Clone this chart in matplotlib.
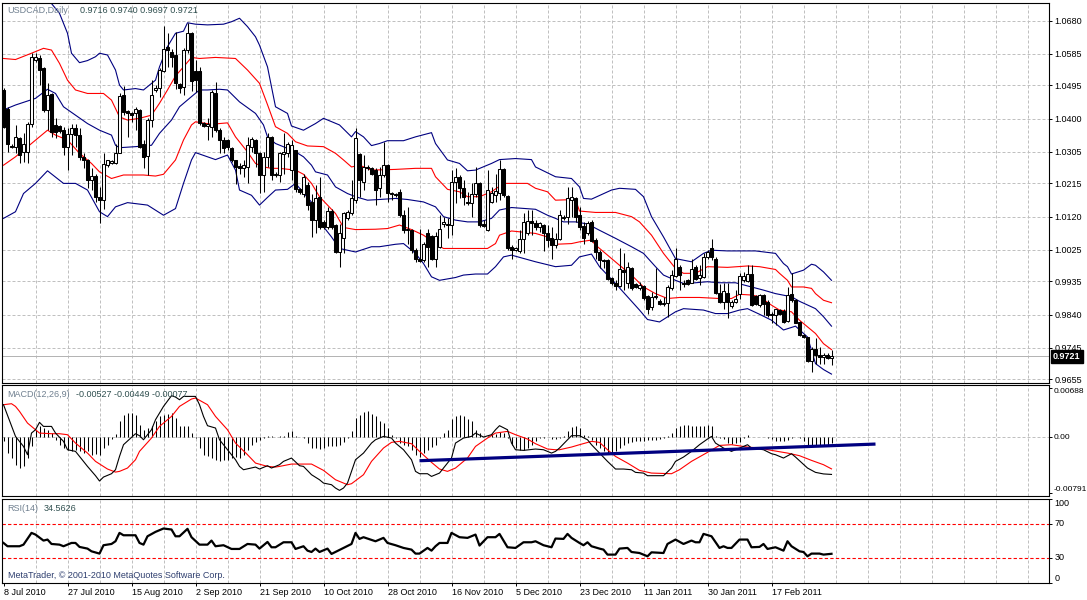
import numpy as np
import matplotlib
matplotlib.use("Agg")
import matplotlib.pyplot as plt

plt.rcParams['font.family'] = ['Liberation Sans', 'DejaVu Sans']

# ---- daily candles (bar index 0 = 8 Jul 2010) ----
opens = [
    1.0482, 1.0429, 1.0322, 1.0320, 1.0344, 1.0305, 1.0305, 1.0386, 1.0569, 1.0572,
    1.0544, 1.0424, 1.0470, 1.0382, 1.0379, 1.0369, 1.0320, 1.0356, 1.0374, 1.0353,
    1.0291, 1.0283, 1.0224, 1.0236, 1.0177, 1.0167, 1.0267, 1.0272, 1.0272, 1.0303,
    1.0469, 1.0422, 1.0415, 1.0415, 1.0426, 1.0327, 1.0293, 1.0396, 1.0482, 1.0489,
    1.0537, 1.0606, 1.0591, 1.0582, 1.0499, 1.0491, 1.0596, 1.0646, 1.0537, 1.0537,
    1.0388, 1.0379, 1.0377, 1.0474, 1.0367, 1.0339, 1.0339, 1.0315, 1.0282, 1.0265,
    1.0258, 1.0262, 1.0320, 1.0339, 1.0301, 1.0239, 1.0291, 1.0348, 1.0239, 1.0239,
    1.0299, 1.0301, 1.0253, 1.0310, 1.0198, 1.0186, 1.0210, 1.0162, 1.0110, 1.0177,
    1.0105, 1.0091, 1.0137, 1.0096, 1.0019, 1.0058, 1.0115, 1.0129, 1.0167, 1.0298,
    1.0220, 1.0262, 1.0258, 1.0253, 1.0201, 1.0239, 1.0267, 1.0188, 1.0184, 1.0191,
    1.0126, 1.0081, 1.0081, 1.0024, 0.9998, 0.9996, 1.0072, 1.0064, 1.0000, 1.0034,
    1.0099, 1.0100, 1.0096, 1.0220, 1.0234, 1.0203, 1.0162, 1.0158, 1.0186, 1.0217,
    1.0100, 1.0081, 1.0161, 1.0181, 1.0188, 1.0255, 1.0179, 1.0034, 1.0024, 1.0022,
    1.0055, 1.0072, 1.0108, 1.0102, 1.0091, 1.0096, 1.0074, 1.0060, 1.0039, 1.0055,
    1.0120, 1.0120, 1.0167, 1.0172, 1.0124, 1.0093, 1.0072, 1.0105, 1.0053, 1.0019,
    0.9996, 0.9996, 0.9945, 0.9929, 0.9921, 0.9967, 0.9929, 0.9974, 0.9927, 0.9915,
    0.9921, 0.9893, 0.9862, 0.9889, 0.9879, 0.9870, 0.9872, 0.9915, 0.9950, 0.9977,
    0.9931, 0.9938, 0.9931, 0.9977, 0.9946, 0.9948, 1.0005, 1.0029, 1.0000, 0.9902,
    0.9877, 0.9902, 0.9864, 0.9877, 0.9900, 0.9940, 0.9937, 0.9956, 0.9893, 0.9867,
    0.9896, 0.9877, 0.9843, 0.9838, 0.9853, 0.9851, 0.9822, 0.9898, 0.9883, 0.9819,
    0.9781, 0.9775, 0.9708, 0.9743, 0.9724, 0.9719, 0.9724, 0.9716]

highs = [
    1.0489, 1.0434, 1.0329, 1.0382, 1.0348, 1.0358, 1.0391, 1.0587, 1.0587, 1.0582,
    1.0548, 1.0501, 1.0474, 1.0401, 1.0382, 1.0377, 1.0372, 1.0386, 1.0386, 1.0372,
    1.0301, 1.0285, 1.0258, 1.0243, 1.0205, 1.0301, 1.0283, 1.0283, 1.0329, 1.0472,
    1.0493, 1.0424, 1.0420, 1.0432, 1.0429, 1.0339, 1.0401, 1.0510, 1.0496, 1.0544,
    1.0665, 1.0644, 1.0598, 1.0648, 1.0501, 1.0601, 1.0672, 1.0648, 1.0567, 1.0548,
    1.0391, 1.0401, 1.0482, 1.0506, 1.0372, 1.0348, 1.0341, 1.0320, 1.0283, 1.0272,
    1.0282, 1.0348, 1.0348, 1.0341, 1.0305, 1.0305, 1.0358, 1.0350, 1.0248, 1.0305,
    1.0358, 1.0334, 1.0339, 1.0310, 1.0201, 1.0243, 1.0220, 1.0186, 1.0210, 1.0234,
    1.0110, 1.0148, 1.0143, 1.0099, 1.0100, 1.0134, 1.0139, 1.0224, 1.0372, 1.0301,
    1.0296, 1.0267, 1.0262, 1.0258, 1.0262, 1.0334, 1.0269, 1.0191, 1.0188, 1.0198,
    1.0139, 1.0148, 1.0086, 1.0029, 1.0086, 1.0048, 1.0086, 1.0067, 1.0077, 1.0124,
    1.0120, 1.0115, 1.0253, 1.0258, 1.0239, 1.0224, 1.0191, 1.0217, 1.0262, 1.0220,
    1.0110, 1.0253, 1.0205, 1.0241, 1.0282, 1.0258, 1.0181, 1.0039, 1.0034, 1.0081,
    1.0129, 1.0139, 1.0139, 1.0110, 1.0105, 1.0099, 1.0096, 1.0091, 1.0072, 1.0140,
    1.0124, 1.0205, 1.0205, 1.0177, 1.0148, 1.0105, 1.0107, 1.0110, 1.0058, 1.0024,
    1.0000, 1.0000, 0.9948, 0.9940, 1.0029, 1.0015, 0.9991, 0.9977, 0.9931, 0.9934,
    0.9924, 0.9896, 0.9905, 0.9972, 0.9886, 0.9891, 0.9924, 0.9967, 1.0029, 0.9981,
    0.9938, 0.9943, 1.0000, 0.9981, 0.9981, 1.0015, 1.0026, 1.0055, 1.0005, 0.9927,
    0.9931, 0.9929, 0.9883, 0.9910, 0.9958, 0.9962, 0.9981, 0.9981, 0.9896, 0.9900,
    0.9900, 0.9881, 0.9848, 0.9857, 0.9855, 0.9855, 0.9919, 0.9958, 0.9886, 0.9822,
    0.9786, 0.9776, 0.9748, 0.9772, 0.9748, 0.9731, 0.9729, 0.9740]

lows = [
    1.0372, 1.0305, 1.0315, 1.0301, 1.0272, 1.0277, 1.0272, 1.0377, 1.0563, 1.0496,
    1.0420, 1.0367, 1.0348, 1.0344, 1.0360, 1.0296, 1.0253, 1.0296, 1.0320, 1.0282,
    1.0258, 1.0201, 1.0196, 1.0162, 1.0102, 1.0143, 1.0262, 1.0270, 1.0270, 1.0301,
    1.0410, 1.0348, 1.0391, 1.0367, 1.0315, 1.0258, 1.0239, 1.0377, 1.0477, 1.0463,
    1.0534, 1.0548, 1.0548, 1.0486, 1.0472, 1.0467, 1.0587, 1.0480, 1.0477, 1.0382,
    1.0377, 1.0339, 1.0348, 1.0363, 1.0301, 1.0301, 1.0310, 1.0277, 1.0213, 1.0243,
    1.0234, 1.0215, 1.0305, 1.0262, 1.0188, 1.0191, 1.0262, 1.0224, 1.0234, 1.0220,
    1.0243, 1.0291, 1.0224, 1.0191, 1.0186, 1.0177, 1.0139, 1.0062, 1.0072, 1.0086,
    1.0086, 1.0086, 1.0086, 1.0015, 0.9977, 1.0015, 1.0110, 1.0124, 1.0158, 1.0177,
    1.0196, 1.0253, 1.0239, 1.0153, 1.0177, 1.0234, 1.0162, 1.0167, 1.0177, 1.0120,
    1.0072, 1.0043, 1.0015, 0.9991, 0.9991, 0.9991, 0.9977, 0.9996, 0.9977, 1.0029,
    1.0091, 1.0058, 1.0067, 1.0158, 1.0172, 1.0153, 1.0153, 1.0120, 1.0177, 1.0091,
    1.0089, 1.0080, 1.0158, 1.0162, 1.0167, 1.0177, 1.0024, 1.0000, 1.0022, 1.0015,
    1.0015, 1.0067, 1.0067, 1.0081, 1.0077, 1.0022, 1.0034, 0.9998, 1.0029, 1.0053,
    1.0110, 1.0099, 1.0120, 1.0105, 1.0081, 1.0043, 1.0067, 1.0048, 0.9998, 0.9972,
    0.9972, 0.9938, 0.9924, 0.9910, 0.9919, 0.9910, 0.9915, 0.9910, 0.9915, 0.9910,
    0.9883, 0.9843, 0.9853, 0.9886, 0.9867, 0.9864, 0.9834, 0.9910, 0.9948, 0.9910,
    0.9919, 0.9924, 0.9929, 0.9940, 0.9924, 0.9946, 1.0000, 0.9996, 0.9900, 0.9872,
    0.9857, 0.9829, 0.9860, 0.9874, 0.9886, 0.9934, 0.9934, 0.9864, 0.9867, 0.9862,
    0.9838, 0.9834, 0.9815, 0.9810, 0.9838, 0.9817, 0.9819, 0.9877, 0.9815, 0.9778,
    0.9772, 0.9705, 0.9676, 0.9700, 0.9698, 0.9700, 0.9712, 0.9697]

closes = [
    1.0377, 1.0329, 1.0318, 1.0348, 1.0296, 1.0329, 1.0386, 1.0577, 1.0577, 1.0539,
    1.0424, 1.0467, 1.0363, 1.0363, 1.0364, 1.0320, 1.0356, 1.0372, 1.0353, 1.0291,
    1.0282, 1.0224, 1.0236, 1.0177, 1.0167, 1.0270, 1.0282, 1.0279, 1.0303, 1.0465,
    1.0420, 1.0415, 1.0410, 1.0427, 1.0320, 1.0291, 1.0396, 1.0467, 1.0489, 1.0539,
    1.0598, 1.0596, 1.0577, 1.0501, 1.0489, 1.0596, 1.0644, 1.0508, 1.0510, 1.0388,
    1.0379, 1.0386, 1.0477, 1.0369, 1.0339, 1.0315, 1.0318, 1.0282, 1.0262, 1.0260,
    1.0267, 1.0324, 1.0341, 1.0301, 1.0239, 1.0291, 1.0348, 1.0239, 1.0243, 1.0301,
    1.0305, 1.0327, 1.0324, 1.0198, 1.0191, 1.0234, 1.0153, 1.0110, 1.0172, 1.0091,
    1.0089, 1.0137, 1.0091, 1.0019, 1.0072, 1.0129, 1.0134, 1.0172, 1.0344, 1.0224,
    1.0262, 1.0258, 1.0243, 1.0196, 1.0239, 1.0267, 1.0188, 1.0184, 1.0181, 1.0124,
    1.0081, 1.0086, 1.0024, 0.9998, 0.9994, 1.0043, 1.0034, 1.0000, 1.0064, 1.0086,
    1.0105, 1.0096, 1.0220, 1.0234, 1.0203, 1.0177, 1.0158, 1.0186, 1.0215, 1.0096,
    1.0093, 1.0196, 1.0188, 1.0193, 1.0255, 1.0181, 1.0029, 1.0024, 1.0030, 1.0055,
    1.0105, 1.0107, 1.0102, 1.0091, 1.0102, 1.0074, 1.0053, 1.0039, 1.0055, 1.0124,
    1.0115, 1.0172, 1.0177, 1.0120, 1.0091, 1.0060, 1.0102, 1.0051, 1.0019, 0.9996,
    0.9994, 0.9943, 0.9929, 0.9921, 0.9969, 0.9962, 0.9977, 0.9915, 0.9918, 0.9924,
    0.9888, 0.9857, 0.9891, 0.9893, 0.9870, 0.9874, 0.9918, 0.9952, 1.0000, 0.9953,
    0.9927, 0.9927, 0.9969, 0.9943, 0.9953, 1.0005, 1.0019, 1.0005, 0.9902, 0.9877,
    0.9907, 0.9877, 0.9877, 0.9886, 0.9950, 0.9950, 0.9956, 0.9867, 0.9870, 0.9896,
    0.9870, 0.9838, 0.9838, 0.9855, 0.9843, 0.9819, 0.9896, 0.9881, 0.9817, 0.9781,
    0.9775, 0.9708, 0.9743, 0.9724, 0.9719, 0.9724, 0.9716, 0.9721]

# ---- bollinger bands (bar index, price) ----
bb2_up_x = [0, 6, 10, 12, 14, 16, 17, 19, 21, 23, 24, 26, 28, 29, 30, 33, 35, 38, 39, 41,
            43, 45, 46, 48, 51, 55, 57, 59, 61, 63, 64, 66, 67, 68, 71, 72, 75, 78, 80, 84,
            87, 88, 90, 92, 94, 96, 100, 103, 107, 108, 111, 114, 116, 118, 122, 124, 128,
            132, 133, 138, 142, 144, 145, 147, 152, 154, 158, 160, 162, 165, 168, 172, 175,
            177, 181, 188, 193, 195, 196, 197, 200, 202, 203, 205, 207]
bb2_up_y = [1.0760, 1.0770, 1.0745, 1.0729, 1.0701, 1.0644, 1.0587, 1.0560, 1.0566, 1.0577,
            1.0587, 1.0582, 1.0539, 1.0496, 1.0482, 1.0486, 1.0482, 1.0510, 1.0548, 1.0606,
            1.0644, 1.0650, 1.0674, 1.0670, 1.0668, 1.0670, 1.0677, 1.0687, 1.0663, 1.0634,
            1.0610, 1.0548, 1.0491, 1.0434, 1.0415, 1.0379, 1.0367, 1.0386, 1.0401, 1.0382,
            1.0348, 1.0363, 1.0348, 1.0323, 1.0329, 1.0337, 1.0337, 1.0348, 1.0360, 1.0329,
            1.0282, 1.0272, 1.0251, 1.0253, 1.0272, 1.0283, 1.0286, 1.0283, 1.0262, 1.0234,
            1.0229, 1.0205, 1.0172, 1.0170, 1.0196, 1.0201, 1.0198, 1.0177, 1.0120, 1.0062,
            1.0000, 0.9991, 1.0015, 1.0024, 1.0022, 1.0022, 1.0015, 0.9986, 0.9977, 0.9956,
            0.9967, 0.9984, 0.9981, 0.9962, 0.9938]

bb_mid_x = [0, 3, 8, 11, 13, 15, 18, 21, 24, 27, 28, 29, 33, 37, 39, 42, 44, 47, 49, 51,
            54, 56, 59, 63, 65, 66, 68, 71, 73, 75, 77, 78, 81, 83, 86, 88, 91, 94, 98, 101,
            105, 108, 110, 113, 116, 119, 122, 124, 127, 133, 136, 138, 140, 143, 146, 149,
            153, 157, 160, 163, 165, 168, 170, 173, 176, 179, 183, 187, 190, 193, 197, 199,
            203, 205, 207]
bb_mid_y = [1.0425, 1.0439, 1.0458, 1.0484, 1.0472, 1.0434, 1.0410, 1.0386, 1.0367, 1.0353,
            1.0324, 1.0317, 1.0320, 1.0324, 1.0358, 1.0396, 1.0434, 1.0463, 1.0482, 1.0482,
            1.0484, 1.0482, 1.0448, 1.0415, 1.0382, 1.0348, 1.0329, 1.0315, 1.0305, 1.0291,
            1.0267, 1.0248, 1.0239, 1.0205, 1.0186, 1.0177, 1.0167, 1.0169, 1.0172, 1.0169,
            1.0162, 1.0148, 1.0120, 1.0110, 1.0105, 1.0105, 1.0115, 1.0139, 1.0146, 1.0141,
            1.0124, 1.0115, 1.0105, 1.0105, 1.0099, 1.0081, 1.0058, 1.0034, 1.0015, 0.9977,
            0.9953, 0.9938, 0.9929, 0.9931, 0.9934, 0.9931, 0.9931, 0.9919, 0.9910, 0.9900,
            0.9891, 0.9878, 0.9857, 0.9834, 0.9807]

bb2_dn_x = [0, 3, 5, 8, 11, 15, 18, 21, 24, 26, 28, 31, 36, 40, 43, 45, 47, 48, 51, 53,
            56, 58, 59, 62, 64, 66, 68, 71, 73, 75, 78, 80, 82, 84, 86, 88, 92, 94, 98, 100,
            103, 105, 107, 109, 113, 115, 118, 121, 123, 125, 127, 133, 138, 142, 144, 147,
            149, 153, 156, 159, 161, 164, 168, 170, 175, 178, 181, 184, 186, 189, 192, 195,
            198, 201, 203, 205, 207]
bb2_dn_y = [1.0115, 1.0134, 1.0186, 1.0215, 1.0251, 1.0215, 1.0215, 1.0196, 1.0134, 1.0120,
            1.0148, 1.0160, 1.0153, 1.0124, 1.0143, 1.0215, 1.0282, 1.0303, 1.0291, 1.0283,
            1.0296, 1.0253, 1.0196, 1.0181, 1.0153, 1.0175, 1.0196, 1.0198, 1.0215, 1.0188,
            1.0148, 1.0091, 1.0062, 1.0029, 1.0024, 1.0019, 1.0034, 1.0034, 1.0041, 1.0043,
            1.0015, 0.9986, 0.9948, 0.9938, 0.9946, 0.9953, 0.9956, 0.9956, 0.9977, 1.0005,
            1.0010, 0.9991, 0.9977, 0.9981, 1.0005, 1.0013, 0.9977, 0.9929, 0.9891, 0.9853,
            0.9826, 0.9819, 0.9848, 0.9857, 0.9853, 0.9843, 0.9843, 0.9853, 0.9857, 0.9841,
            0.9824, 0.9796, 0.9807, 0.9776, 0.9700, 0.9683, 0.9670]

bb1_up_x = [0, 3, 7, 10, 12, 14, 16, 18, 21, 25, 27, 29, 31, 34, 37, 39, 41, 43, 45, 47,
            49, 53, 58, 61, 64, 66, 68, 71, 73, 76, 80, 83, 85, 87, 89, 92, 98, 103, 107, 108,
            111, 114, 116, 119, 122, 125, 131, 133, 136, 138, 143, 144, 148, 153, 157, 159,
            162, 165, 168, 170, 173, 176, 181, 186, 189, 193, 194, 196, 197, 200, 202, 203,
            205, 207]
bb1_up_y = [1.0572, 1.0569, 1.0587, 1.0601, 1.0596, 1.0558, 1.0510, 1.0482, 1.0472, 1.0472,
            1.0453, 1.0405, 1.0396, 1.0401, 1.0410, 1.0444, 1.0482, 1.0522, 1.0548, 1.0575,
            1.0572, 1.0575, 1.0572, 1.0539, 1.0501, 1.0440, 1.0377, 1.0358, 1.0334, 1.0322,
            1.0320, 1.0301, 1.0282, 1.0262, 1.0267, 1.0253, 1.0255, 1.0258, 1.0258, 1.0234,
            1.0198, 1.0191, 1.0177, 1.0177, 1.0191, 1.0215, 1.0215, 1.0201, 1.0191, 1.0167,
            1.0169, 1.0136, 1.0132, 1.0132, 1.0120, 1.0105, 1.0067, 1.0015, 0.9972, 0.9958,
            0.9958, 0.9977, 0.9975, 0.9979, 0.9977, 0.9969, 0.9958, 0.9938, 0.9919, 0.9919,
            0.9915, 0.9900, 0.9881, 0.9874]

bb1_dn_x = [0, 3, 7, 11, 13, 16, 19, 22, 24, 27, 30, 35, 38, 40, 43, 45, 47, 48, 52, 56,
            58, 61, 63, 65, 67, 69, 73, 75, 77, 79, 83, 85, 88, 93, 96, 99, 102, 105, 108, 110,
            114, 121, 123, 124, 127, 133, 136, 138, 142, 144, 147, 148, 151, 154, 157, 160,
            163, 166, 169, 174, 179, 182, 184, 187, 189, 192, 194, 197, 199, 203, 205, 207]
bb1_dn_y = [1.0267, 1.0291, 1.0329, 1.0367, 1.0353, 1.0339, 1.0301, 1.0272, 1.0248, 1.0229,
            1.0239, 1.0239, 1.0236, 1.0241, 1.0282, 1.0339, 1.0382, 1.0391, 1.0384, 1.0388,
            1.0348, 1.0305, 1.0272, 1.0262, 1.0258, 1.0258, 1.0253, 1.0241, 1.0215, 1.0177,
            1.0129, 1.0089, 1.0083, 1.0084, 1.0086, 1.0096, 1.0083, 1.0067, 1.0043, 1.0029,
            1.0029, 1.0029, 1.0043, 1.0067, 1.0079, 1.0072, 1.0062, 1.0041, 1.0043, 1.0048,
            1.0053, 1.0039, 1.0010, 0.9981, 0.9953, 0.9919, 0.9900, 0.9886, 0.9889, 0.9889,
            0.9886, 0.9886, 0.9898, 0.9896, 0.9891, 0.9867, 0.9853, 0.9848, 0.9824, 0.9786,
            0.9757, 0.9740]

# ---- MACD(12,26,9) ----
macd_x = [0, 3, 5, 6, 7, 8, 9, 10, 12, 13, 15, 16, 18, 19, 21, 23, 24, 25, 27, 28,
          29, 30, 33, 34, 35, 37, 38, 40, 42, 43, 44, 45, 48, 49, 50, 51, 53, 54, 56, 58,
          59, 60, 63, 64, 66, 67, 69, 70, 72, 74, 75, 77, 79, 80, 82, 83, 84, 85, 86, 87,
          88, 90, 92, 93, 95, 97, 98, 100, 102, 103, 104, 106, 107, 109, 110, 112, 113, 115,
          117, 118, 120, 122, 123, 124, 126, 127, 128, 130, 133, 135, 137, 138, 139, 141,
          142, 144, 146, 147, 149, 151, 153, 155, 157, 158, 160, 161, 163, 165, 167, 168,
          170, 172, 174, 176, 177, 178, 180, 182, 183, 185, 186, 187, 190, 192, 193, 195,
          197, 198, 201, 203, 205, 207]
macd_y = [0.00456, 0.00009, -0.00132, -0.00249, 0.00056, 0.00103, 0.00207, 0.00150, 0.00150,
          0.00056, -0.00061, -0.00179, -0.00202, -0.00273, -0.00414, -0.00545, -0.00620,
          -0.00564, -0.00517, -0.00461, -0.00273, -0.00108, 0.00047, 0.00019, -0.00038,
          0.00103, 0.00244, 0.00432, 0.00583, 0.00564, 0.00526, 0.00573, 0.00573, 0.00456,
          0.00291, 0.00160, 0.00127, -0.00038, -0.00179, -0.00320, -0.00414, -0.00461,
          -0.00423, -0.00451, -0.00404, -0.00437, -0.00390, -0.00343, -0.00296, -0.00404,
          -0.00414, -0.00531, -0.00602, -0.00649, -0.00672, -0.00719, -0.00752, -0.00719,
          -0.00649, -0.00484, -0.00320, -0.00226, -0.00085, -0.00038, 0.00009, -0.00014,
          -0.00085, -0.00179, -0.00320, -0.00484, -0.00517, -0.00517, -0.00555, -0.00508,
          -0.00437, -0.00296, -0.00085, -0.00014, 0.00009, 0.00056, 0.00000, 0.00033,
          0.00103, 0.00160, 0.00103, -0.00085, -0.00179, -0.00188, -0.00169, -0.00179,
          -0.00226, -0.00202, -0.00155, -0.00038, 0.00019, 0.00019, -0.00038, -0.00108,
          -0.00226, -0.00343, -0.00451, -0.00451, -0.00461, -0.00498, -0.00508, -0.00545,
          -0.00545, -0.00545, -0.00437, -0.00343, -0.00282, -0.00202, -0.00108, -0.00028,
          0.00009, -0.00085, -0.00155, -0.00202, -0.00179, -0.00132, -0.00108, -0.00155,
          -0.00179, -0.00235, -0.00249, -0.00296, -0.00235, -0.00282, -0.00437, -0.00498,
          -0.00520, -0.00527]

signal_x = [0, 2, 3, 4, 6, 8, 9, 12, 14, 16, 18, 21, 23, 26, 28, 29, 31, 33, 34, 37,
            39, 42, 44, 47, 48, 51, 53, 56, 58, 61, 63, 66, 68, 69, 72, 77, 80, 83, 86, 87,
            90, 92, 95, 97, 99, 102, 104, 107, 109, 111, 113, 116, 118, 121, 123, 126, 128,
            131, 133, 136, 138, 139, 142, 144, 147, 149, 151, 153, 156, 159, 162, 167, 169,
            172, 176, 179, 182, 186, 189, 192, 196, 199, 202, 205, 207]
signal_y = [0.00456, 0.00470, 0.00432, 0.00362, 0.00197, 0.00103, 0.00056, 0.00047, 0.00047,
            0.00033, -0.00085, -0.00226, -0.00343, -0.00451, -0.00494, -0.00484, -0.00437,
            -0.00320, -0.00202, -0.00014, 0.00150, 0.00291, 0.00432, 0.00536, 0.00550,
            0.00456, 0.00291, 0.00103, -0.00085, -0.00249, -0.00367, -0.00414, -0.00423,
            -0.00414, -0.00381, -0.00381, -0.00470, -0.00602, -0.00672, -0.00658, -0.00531,
            -0.00343, -0.00155, -0.00075, -0.00061, -0.00094, -0.00202, -0.00357, -0.00451,
            -0.00484, -0.00437, -0.00296, -0.00132, -0.00014, 0.00056, 0.00080, 0.00033,
            -0.00028, -0.00094, -0.00169, -0.00179, -0.00179, -0.00141, -0.00108, -0.00061,
            -0.00075, -0.00179, -0.00273, -0.00367, -0.00470, -0.00508, -0.00517, -0.00461,
            -0.00343, -0.00216, -0.00118, -0.00108, -0.00141, -0.00155, -0.00188, -0.00226,
            -0.00263, -0.00329, -0.00390, -0.00449]

macd_hist = [
    -0.00061, -0.00226, -0.00296, -0.00390, -0.00437, -0.00414, -0.00296, -0.00132, 0.00103, 0.00150,
    0.00127, 0.00103, 0.00056, -0.00038, -0.00108, -0.00155, -0.00179, -0.00202, -0.00179, -0.00202,
    -0.00226, -0.00202, -0.00249, -0.00235, -0.00249, -0.00155, -0.00108, -0.00028, 0.00047, 0.00221,
    0.00306, 0.00338, 0.00338, 0.00315, 0.00174, 0.00103, 0.00127, 0.00150, 0.00221, 0.00291,
    0.00315, 0.00329, 0.00338, 0.00268, 0.00150, 0.00160, 0.00160, 0.00056, -0.00014, -0.00155,
    -0.00249, -0.00273, -0.00296, -0.00329, -0.00343, -0.00329, -0.00320, -0.00296, -0.00282, -0.00296,
    -0.00249, -0.00179, -0.00108, -0.00075, -0.00038, -0.00014, 0.00019, 0.00009, 0.00000, 0.00009,
    0.00019, 0.00066, 0.00080, 0.00019, -0.00005, -0.00014, -0.00085, -0.00155, -0.00155, -0.00169,
    -0.00155, -0.00132, -0.00122, -0.00122, -0.00108, -0.00075, -0.00014, 0.00080, 0.00268, 0.00315,
    0.00348, 0.00362, 0.00329, 0.00291, 0.00221, 0.00197, 0.00127, 0.00033, -0.00014, -0.00085,
    -0.00108, -0.00122, -0.00179, -0.00249, -0.00282, -0.00226, -0.00179, -0.00141, -0.00108, -0.00014,
    0.00056, 0.00103, 0.00254, 0.00301, 0.00306, 0.00291, 0.00254, 0.00221, 0.00103, 0.00056,
    -0.00005, 0.00019, 0.00047, 0.00047, 0.00066, 0.00056, -0.00014, -0.00108, -0.00155, -0.00179,
    -0.00179, -0.00155, -0.00108, -0.00061, -0.00014, -0.00014, -0.00005, -0.00024, -0.00028, -0.00014,
    0.00019, 0.00080, 0.00141, 0.00150, 0.00127, 0.00033, 0.00019, -0.00038, -0.00108, -0.00155,
    -0.00202, -0.00235, -0.00226, -0.00202, -0.00155, -0.00108, -0.00085, -0.00075, -0.00061, -0.00061,
    -0.00061, -0.00047, -0.00047, -0.00038, -0.00028, -0.00014, 0.00009, 0.00056, 0.00127, 0.00160,
    0.00174, 0.00174, 0.00160, 0.00150, 0.00160, 0.00160, 0.00174, 0.00160, 0.00009, -0.00014,
    -0.00028, -0.00085, -0.00094, -0.00085, -0.00075, -0.00014, 0.00024, 0.00000, -0.00005, -0.00005,
    -0.00005, -0.00014, -0.00028, -0.00061, -0.00061, -0.00061, -0.00047, -0.00014, -0.00005, -0.00014,
    -0.00061, -0.00108, -0.00122, -0.00122, -0.00122, -0.00122, -0.00132, -0.00077]

# hand drawn trendline on the MACD window
trend_x = [104, 218]
trend_y = [-0.00334, -0.00099]

# ---- RSI(14) ----
rsi_x = [0, 1, 4, 5, 7, 8, 10, 11, 12, 14, 15, 17, 18, 19, 21, 22, 24, 25, 27, 28,
         29, 30, 33, 34, 35, 36, 38, 40, 42, 43, 44, 46, 47, 49, 51, 52, 53, 55, 57, 59,
         61, 63, 64, 66, 67, 68, 70, 72, 73, 75, 76, 77, 78, 79, 81, 82, 85, 87, 88, 89,
         90, 93, 95, 96, 98, 100, 102, 103, 104, 106, 107, 108, 109, 111, 112, 114, 116,
         118, 119, 121, 123, 124, 126, 128, 130, 132, 133, 135, 137, 138, 140, 141, 142,
         144, 145, 146, 147, 149, 150, 151, 153, 154, 156, 157, 159, 161, 162, 165, 166,
         168, 170, 172, 173, 174, 175, 177, 179, 180, 181, 182, 184, 186, 187, 189, 190,
         191, 193, 195, 196, 197, 199, 200, 201, 202, 204, 205, 207]
rsi_y = [47.4, 43.5, 43.5, 45.4, 59.3, 57.3, 50.2, 51.4, 46.2, 45.4, 43.5, 47.4, 47.4, 42.7,
         40.7, 37.5, 34.8, 44.7, 46.2, 49.4, 59.3, 56.5, 56.5, 47.4, 45.4, 55.3, 60.5, 64.5,
         63.3, 55.3, 55.3, 64.1, 54.2, 45.4, 45.4, 50.2, 43.5, 44.7, 40.3, 40.3, 46.2, 45.4,
         40.7, 48.6, 42.3, 42.3, 48.2, 48.2, 40.3, 43.5, 38.3, 36.7, 40.7, 36.7, 40.7, 34.4,
         41.5, 46.2, 59.3, 52.2, 54.2, 49.4, 53.4, 47.4, 44.7, 41.5, 39.5, 34.8, 34.8, 41.5,
         38.3, 43.5, 47.4, 47.4, 59.3, 54.2, 53.4, 57.3, 44.3, 54.2, 54.2, 58.1, 42.3, 41.5,
         48.2, 48.2, 49.4, 44.7, 42.3, 52.6, 52.2, 58.1, 53.4, 47.4, 44.7, 48.2, 43.5, 40.7,
         39.5, 33.6, 33.6, 40.7, 41.5, 36.7, 35.5, 31.6, 36.3, 35.5, 46.2, 51.4, 46.2, 50.2,
         48.2, 48.2, 58.1, 55.3, 41.5, 43.5, 41.5, 41.5, 51.4, 51.4, 42.3, 42.7, 46.2, 40.3,
         42.3, 38.3, 49.4, 43.5, 37.5, 36.7, 31.6, 34.8, 34.8, 33.6, 34.5626]
rsi_levels = [70, 30]

# ---- axis labels ----
price_ticks = [1.0680, 1.0585, 1.0495, 1.0400, 1.0305, 1.0215, 1.0120, 1.0025,
               0.9935, 0.9840, 0.9745, 0.9655]
macd_ticks = [0.00688, 0.0, -0.00791]
macd_tick_labels = ["0.00688", "0.00", "-0.00791"]
rsi_ticks = [100, 70, 30, 0]
date_labels = ["8 Jul 2010", "27 Jul 2010", "15 Aug 2010", "2 Sep 2010", "21 Sep 2010",
               "10 Oct 2010", "28 Oct 2010", "16 Nov 2010", "5 Dec 2010", "23 Dec 2010",
               "11 Jan 2011", "30 Jan 2011", "17 Feb 2011"]
bid = 0.9721

GRID = '#c0c0c0'
DASH = (0, (3, 2))
NAME_C = '#708090'
VAL_C = '#2f4f4f'
FS = 6.5
XLIM = (-0.5, 261.4)


def frame(ax, fs=FS, pad=1.5):
    """common MetaTrader-like panel styling"""
    ax.set_xlim(*XLIM)
    for s in ax.spines.values():
        s.set_color('black')
        s.set_linewidth(0.8)
    ax.yaxis.tick_right()
    ax.tick_params(axis='y', direction='out', length=2.2, width=0.7, pad=pad,
                   labelsize=fs, colors='black')
    ax.tick_params(axis='x', bottom=False, labelbottom=False)
    for gx in range(8, 262, 8):
        ax.axvline(gx, color=GRID, lw=0.72, ls=DASH, zorder=0)


def header(ax, name, values, val_dx, dy=-10):
    ax.annotate(name, xy=(0, 1), xycoords='axes fraction', xytext=(6, dy),
                textcoords='offset pixels', va='center', ha='left', fontsize=FS,
                color=NAME_C, zorder=20)
    ax.annotate(values, xy=(0, 1), xycoords='axes fraction', xytext=(val_dx, dy),
                textcoords='offset pixels', va='center', ha='left', fontsize=FS,
                color=VAL_C, zorder=20)


def plot_price(ax):
    frame(ax)
    ax.set_ylim(0.96454, 1.07314)
    ax.set_yticks(price_ticks)
    ax.set_yticklabels(["%.4f" % p for p in price_ticks])
    for p in price_ticks:
        ax.axhline(p, color=GRID, lw=0.72, ls=DASH, zorder=0)
    ax.axhline(bid, color='#b4b4b4', lw=0.72, zorder=1)

    o = np.array(opens)
    h = np.array(highs)
    l = np.array(lows)
    c = np.array(closes)
    x = np.arange(len(o))
    up = c >= o
    ax.vlines(x, l, h, color='black', lw=0.75, zorder=3)
    ax.bar(x, np.abs(c - o), bottom=np.minimum(o, c), width=0.62,
           color=np.where(up, 'white', 'black'), edgecolor='black',
           linewidth=0.75, zorder=4)

    ax.plot(bb2_up_x, bb2_up_y, color='#000080', lw=0.8, zorder=2)
    ax.plot(bb_mid_x, bb_mid_y, color='#000080', lw=0.8, zorder=2)
    ax.plot(bb2_dn_x, bb2_dn_y, color='#000080', lw=0.8, zorder=2)
    ax.plot(bb1_up_x, bb1_up_y, color='#ff0000', lw=0.8, zorder=2)
    ax.plot(bb1_dn_x, bb1_dn_y, color='#ff0000', lw=0.8, zorder=2)

    header(ax, "USDCAD,Daily", "%.4f %.4f %.4f %.4f" % (opens[-1], highs[-1], lows[-1], closes[-1]),
           78, dy=-8)
    ax.annotate("%.4f" % bid, xy=(1.0, bid), xycoords=('axes fraction', 'data'),
                xytext=(4, 0), textcoords='offset pixels', va='center', ha='left',
                fontsize=FS, color='white', fontweight='bold',
                bbox=dict(boxstyle='square,pad=0.22', fc='black', ec='black'),
                annotation_clip=False, zorder=30)


def plot_macd(ax):
    frame(ax, fs=6.0, pad=0.8)
    ax.set_ylim(-0.00827, 0.00738)
    ax.set_yticks(macd_ticks)
    ax.set_yticklabels(macd_tick_labels)
    for lbl, va in zip(ax.get_yticklabels(), ['top', 'center', 'bottom']):
        lbl.set_va(va)
    ax.axhline(0, color=GRID, lw=0.72, ls=DASH, zorder=0)
    x = np.arange(len(macd_hist))
    ax.vlines(x, 0, macd_hist, color='black', lw=0.75, zorder=2)
    ax.plot(signal_x, signal_y, color='#ff0000', lw=0.8, zorder=3)
    ax.plot(macd_x, macd_y, color='black', lw=0.8, zorder=4)
    ax.plot(trend_x, trend_y, color='#000080', lw=2.3, zorder=5, solid_capstyle='butt')
    header(ax, "MACD(12,26,9)", "%.5f %.5f %.5f" % (macd_y[-1], signal_y[-1], macd_hist[-1]), 75)


def plot_rsi(ax):
    frame(ax)
    ax.set_ylim(0, 100)
    ax.set_yticks(rsi_ticks)
    ax.set_yticklabels([str(t) for t in rsi_ticks])
    for lbl, va in zip(ax.get_yticklabels(), ['top', 'center', 'center', 'bottom']):
        lbl.set_va(va)
    for lv in rsi_levels:
        ax.axhline(lv, color='#ff0000', lw=0.8, ls=DASH, zorder=1)
    ax.plot(rsi_x, rsi_y, color='black', lw=1.6, zorder=3)

    ax.set_xticks(range(0, 16 * len(date_labels), 16))
    ax.set_xticklabels(date_labels)
    ax.tick_params(axis='x', bottom=True, labelbottom=True, direction='out',
                   length=2.2, width=0.7, pad=1.5, labelsize=FS, colors='black')
    for lbl in ax.get_xticklabels():
        lbl.set_ha('left')
    header(ax, "RSI(14)", "%.4f" % rsi_y[-1], 42)
    ax.annotate(u"MetaTrader, \u00a9 2001-2010 MetaQuotes Software Corp.", xy=(0, 0),
                xycoords='axes fraction', xytext=(6, 8), textcoords='offset pixels',
                va='center', ha='left', fontsize=FS, color='#2f3f6f', zorder=20)


def main():
    W, H = 1087, 600
    fig = plt.figure(figsize=(W / 100, H / 100), dpi=100)
    fig.patch.set_facecolor('white')

    def box(top, bottom):
        return [1.5 / W, 1 - bottom / H, 1047.6 / W, (bottom - top) / H]

    ax_p = fig.add_axes(box(2.7, 382.7))
    ax_m = fig.add_axes(box(384.7, 495.7))
    ax_r = fig.add_axes(box(498.5, 583.0))

    plot_price(ax_p)
    plot_macd(ax_m)
    plot_rsi(ax_r)

    fig.savefig("out.png", dpi=100, facecolor='white')


if __name__ == "__main__":
    main()
